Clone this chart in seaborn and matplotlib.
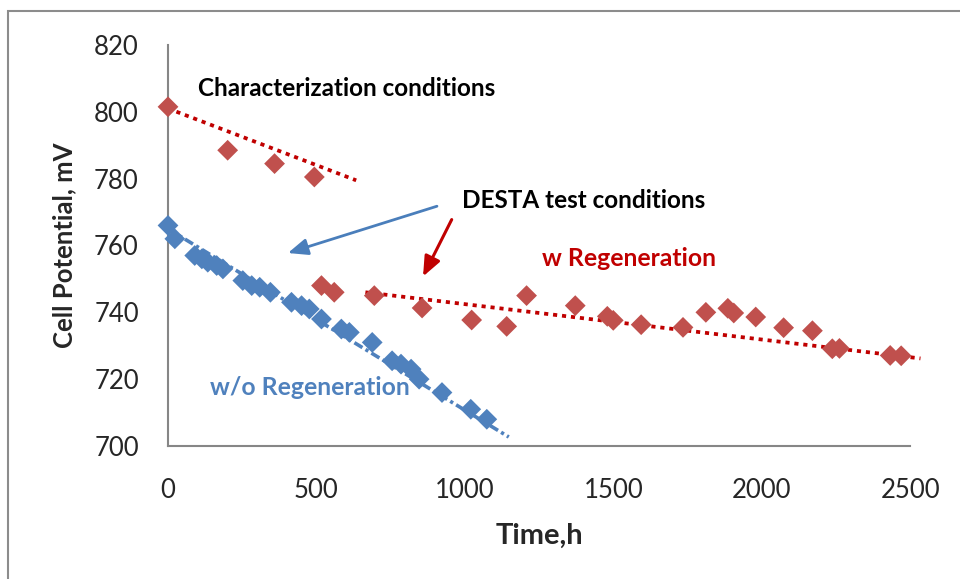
import matplotlib
matplotlib.use("Agg")
import matplotlib.pyplot as plt
import seaborn as sns
import pandas as pd
from matplotlib.patches import Rectangle

# Data
blue_t = [0, 23, 90, 114, 134, 164, 185, 252, 282, 309, 345, 416, 450, 476, 517,
          584, 611, 688, 755, 785, 819, 846, 923, 1020, 1074]
blue_v = [766, 762, 757, 756, 755, 754, 753, 749.5, 748, 747.5, 746, 743, 742, 741, 738,
          735, 734, 731, 725.5, 724.5, 723, 720, 716, 711, 708]

char_t = [0, 201, 359, 493]
char_v = [801.5, 788.5, 784.5, 780.5]

regen_t = [517, 560, 695, 856, 1023, 1141, 1208, 1372, 1480, 1500, 1594, 1735, 1812,
           1886, 1906, 1980, 2074, 2171, 2238, 2262, 2433, 2470]
regen_v = [748, 746, 745, 741.3, 737.7, 735.8, 745, 742, 738.8, 737.6, 736.3, 735.5, 740,
           741.2, 739.8, 738.6, 735.4, 734.5, 729.1, 729.2, 727.1, 727]

# trendline end points
blue_trend_t = [0, 1148]
blue_trend_v = [765, 702.7]
char_trend_t = [0, 634]
char_trend_v = [801, 779.5]
regen_trend_t = [665, 2535]
regen_trend_v = [746, 726.2]

x_ticks = [0, 500, 1000, 1500, 2000, 2500]
y_ticks = [700, 720, 740, 760, 780, 800, 820]

RED_MK = "#C0504D"
RED = "#C00000"
BLUE = "#4F81BD"

sns.set_style("white")
plt.rcParams["font.family"] = ["Lato", "DejaVu Sans"]

fig = plt.figure(figsize=(9.6, 5.79), dpi=100)
ax = fig.add_axes([0.175, 0.2297, 0.773, 0.6926])

# outer chart border
fig.patches.append(Rectangle((8 / 960, -0.1), 1.2, 1.1 - 11 / 579, transform=fig.transFigure,
                             fill=False, edgecolor="#8c8c8c", linewidth=1.5))

# trendlines
ax.plot(blue_trend_t, blue_trend_v, color=BLUE, linewidth=2.6,
        linestyle=(0, (2.6, 1.0, 0.9, 1.0)), dash_capstyle="butt", zorder=2)
ax.plot(char_trend_t, char_trend_v, color=RED, linewidth=2.7,
        linestyle=(0, (1.1, 1.3)), dash_capstyle="butt", zorder=2)
ax.plot(regen_trend_t, regen_trend_v, color=RED, linewidth=2.7,
        linestyle=(0, (1.1, 1.3)), dash_capstyle="butt", zorder=2, clip_on=False)

# data points
sns.scatterplot(x=blue_t, y=blue_v, marker="D", s=112, color=BLUE, edgecolor="none",
                ax=ax, zorder=3, clip_on=False)
sns.scatterplot(x=char_t, y=char_v, marker="D", s=112, color=RED_MK, edgecolor="none",
                ax=ax, zorder=3, clip_on=False)
sns.scatterplot(x=regen_t, y=regen_v, marker="D", s=112, color=RED_MK, edgecolor="none",
                ax=ax, zorder=3, clip_on=False)

ax.set_xlim(0, 2500)
ax.set_ylim(700, 820)
ax.set_xticks(x_ticks)
ax.set_yticks(y_ticks)
ax.tick_params(axis="both", labelsize=18.5, length=8, width=1.5, color="#868686",
               direction="out")
ax.tick_params(axis="y", pad=13)
ax.tick_params(axis="x", pad=15)
for side in ["top", "right"]:
    ax.spines[side].set_visible(False)
for side in ["left", "bottom"]:
    ax.spines[side].set_color("#868686")
    ax.spines[side].set_linewidth(1.5)

ax.set_xlabel("Time,h", fontsize=21, fontweight="bold", labelpad=14)
ax.set_ylabel("Cell Potential, mV", fontsize=18.5, fontweight="bold", labelpad=13)

# annotations
ax.text(100, 807, "Characterization conditions", fontsize=17.5, fontweight="bold",
        color="black", va="center", ha="left")
ax.text(990, 773.6, "DESTA test conditions", fontsize=17.5, fontweight="bold",
        color="black", va="center", ha="left")
ax.text(1260, 756, "w Regeneration", fontsize=17.8, fontweight="bold",
        color=RED, va="center", ha="left")
ax.text(140, 717.5, "w/o Regeneration", fontsize=17.8, fontweight="bold",
        color=BLUE, va="center", ha="left")

ax.annotate("", xy=(395, 757.5), xytext=(915, 772),
            arrowprops=dict(arrowstyle="-|>,head_length=1.2,head_width=0.5",
                            color="#4A7EBB", linewidth=2))
ax.annotate("", xy=(855, 750), xytext=(960, 768.5),
            arrowprops=dict(arrowstyle="-|>,head_length=1.2,head_width=0.5",
                            color=RED, linewidth=2.2))

fig.savefig("out.png", dpi=100)
